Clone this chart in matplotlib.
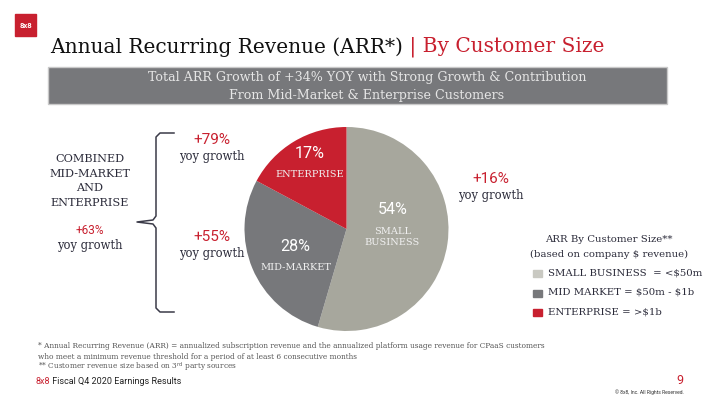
# ARR by customer size - pie slide recreation

import matplotlib
matplotlib.use("Agg")
import matplotlib.pyplot as plt
from matplotlib.patches import Rectangle

# data
segments = ['SMALL BUSINESS', 'MID-MARKET', 'ENTERPRISE']
slice_names = ['SMALL\nBUSINESS', 'MID-MARKET', 'ENTERPRISE']
shares = [54, 28, 17]
growth = ['+16%', '+55%', '+79%']
combined_growth = '+63%'
legend_labels = [r'SMALL BUSINESS  = <\$50m', r'MID MARKET = \$50m - \$1b', r'ENTERPRISE = >\$1b']

RED = '#C8202F'
DARK = '#77787B'
LIGHT = '#A7A79D'
TXT = '#2B2B3A'
SERIF = 'DejaVu Serif'
SANS = 'Roboto'

fig = plt.figure(figsize=(7.2, 4.05), dpi=100)
bg = fig.add_axes([0, 0, 1, 1])
bg.set_xlim(0, 720)
bg.set_ylim(405, 0)
bg.axis('off')

# logo
bg.add_patch(Rectangle((15, 14), 21, 22, color=RED))
bg.text(25.5, 25.5, '8x8', color='white', fontsize=5.5, fontweight='bold',
        ha='center', va='center', family=SANS)

# title
t = bg.text(50, 47, 'Annual Recurring Revenue (ARR*)', fontsize=14.5, family=SERIF,
            color='#111111', va='center', ha='left')
bg.annotate(' | By Customer Size', xy=(1, 0.5), xycoords=t, fontsize=14.5,
            family=SERIF, color=RED, va='center', ha='left')

# banner
bg.add_patch(Rectangle((48, 67), 619, 37, facecolor=DARK, edgecolor='#C9C9C9', lw=1))
bg.text(367, 77.5, 'Total ARR Growth of +34% YOY with Strong Growth & Contribution',
        fontsize=9.1, family=SERIF, color='#E6E6E6', ha='center', va='center')
bg.text(367, 95, 'From Mid-Market & Enterprise Customers',
        fontsize=9.1, family=SERIF, color='#E6E6E6', ha='center', va='center')

# pie
cx, cy, r = 346.5, 229, 102
pax = fig.add_axes([(cx - r) / 720, (405 - cy - r) / 405, 2 * r / 720, 2 * r / 405])
colors = [LIGHT, DARK, RED]
wedges, _ = pax.pie(shares, colors=colors, startangle=90, counterclock=False,
                    radius=1, wedgeprops=dict(linewidth=0))
pax.set_xlim(-1, 1)
pax.set_ylim(-1, 1)
pax.set_aspect('equal')
pax.axis('off')

label_pos = [(0.45, 0.05), (-0.5, -0.31), (-0.36, 0.6)]
for (lx, ly), s, name in zip(label_pos, shares, slice_names):
    pax.text(lx, ly + 0.14, f'{s}%', fontsize=11.5, family=SANS, color='white',
             ha='center', va='center')
    pax.text(lx, ly - 0.07 - (0.06 if '\n' in name else 0), name, fontsize=7,
             family=SERIF, color='#F0F0F0', ha='center', va='center', linespacing=1.2)

# growth annotations
g_pos = [(491, 179), (212, 237), (212, 140)]
for (gx, gy), g in zip(g_pos, growth):
    bg.text(gx, gy, g, fontsize=11, family=SANS, color=RED, ha='center', va='center')
    bg.text(gx, gy + 16.5, 'yoy growth', fontsize=8.3, family=SERIF, color=TXT,
            ha='center', va='center')

# combined block
for i, line in enumerate(['COMBINED', 'MID-MARKET', 'AND', 'ENTERPRISE']):
    bg.text(90, 159 + i * 14.7, line, fontsize=8.1, family=SERIF, color=TXT,
            ha='center', va='center')
bg.text(90, 231, combined_growth, fontsize=8.5, family=SANS, color=RED,
        ha='center', va='center')
bg.text(90, 246, 'yoy growth', fontsize=8.3, family=SERIF, color=TXT,
        ha='center', va='center')

# brace
bx = [174, 160, 156, 156, 153, 137, 153, 156, 156, 160, 174]
by = [133, 133, 137, 216, 220, 222, 224, 228, 308, 312, 312]
bg.plot(bx, by, color='#3A3A48', lw=1.1, solid_joinstyle='round')

# legend
bg.text(609, 239, 'ARR By Customer Size**', fontsize=7.3, family=SERIF, color=TXT,
        ha='center', va='center')
bg.text(609, 254, r'(based on company \$ revenue)', fontsize=7.3, family=SERIF,
        color=TXT, ha='center', va='center')
leg_colors = ['#C9C9C2', DARK, RED]
for i, (lab, c) in enumerate(zip(legend_labels, leg_colors)):
    yy = 273 + i * 19.5
    bg.add_patch(Rectangle((533, yy - 3), 8.5, 7, color=c))
    bg.text(548, yy, lab, fontsize=7.3, family=SERIF, color=TXT, ha='left', va='center')

# footnotes
fn = ['* Annual Recurring Revenue (ARR) = annualized subscription revenue and the annualized platform usage revenue for CPaaS customers',
      'who meet a minimum revenue threshold for a period of at least 6 consecutive months',
      '** Customer revenue size based on 3$^{\\rm rd}$ party sources']
for i, line in enumerate(fn):
    bg.text(38, 346 + i * 10.7, line, fontsize=5.3, family=SERIF, color='#555555',
            ha='left', va='center')

f1 = bg.text(36, 382, '8x8', fontsize=6.5, family=SANS, color=RED, ha='left', va='center')
bg.annotate(' Fiscal Q4 2020 Earnings Results', xy=(1, 0.5), xycoords=f1, fontsize=6.5,
            family=SANS, color='#222222', ha='left', va='center')
bg.text(680, 380, '9', fontsize=9, family=SANS, color=RED, ha='center', va='center')
bg.text(684, 392, '© 8x8, Inc. All Rights Reserved.', fontsize=3.6, family=SANS,
        color='#333333', ha='right', va='center')

fig.savefig('out.png', dpi=100)
